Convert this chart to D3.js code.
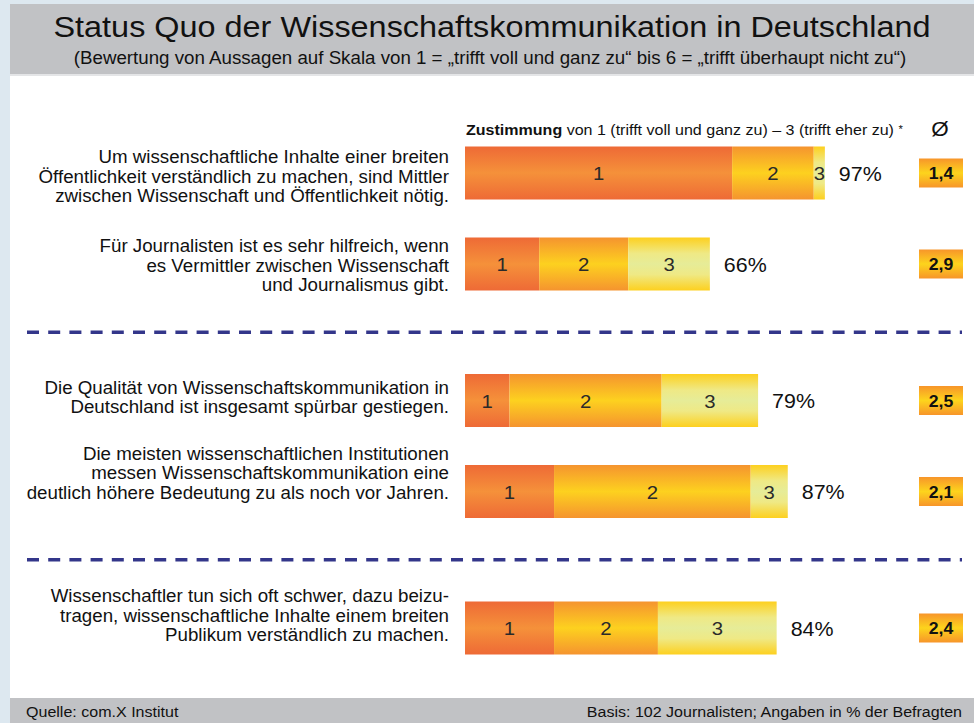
<!DOCTYPE html>
<html>
<head>
<meta charset="utf-8">
<script src="https://cdn.jsdelivr.net/npm/d3@7"></script>
<style>
  body { margin: 0; background: #fff; }
  svg { display: block; font-family: "Liberation Sans", Arial, sans-serif; }
</style>
</head>
<body>
<div id="chart"></div>
<script>
// statements, split into lines as printed
const statements = [
  ["Um wissenschaftliche Inhalte einer breiten", "Öffentlichkeit verständlich zu machen, sind Mittler", "zwischen Wissenschaft und Öffentlichkeit nötig."],
  ["Für Journalisten ist es sehr hilfreich, wenn", "es Vermittler zwischen Wissenschaft", "und Journalismus gibt."],
  ["Die Qualität von Wissenschaftskommunikation in", "Deutschland ist insgesamt spürbar gestiegen."],
  ["Die meisten wissenschaftlichen Institutionen", "messen Wissenschaftskommunikation eine", "deutlich höhere Bedeutung zu als noch vor Jahren."],
  ["Wissenschaftler tun sich oft schwer, dazu beizu-", "tragen, wissenschaftliche Inhalte einem breiten", "Publikum verständlich zu machen."]
];
const groupOf = [0, 0, 1, 1, 2];            // blocks separated by dashed lines
const score1 = [72, 20, 12, 24, 24];        // % "trifft voll und ganz zu"
const score2 = [22, 24, 41, 53, 28];
const score3 = [3, 22, 26, 10, 32];         // % "trifft eher zu"
const totals = [97, 66, 79, 87, 84];
const averages = [1.4, 2.9, 2.5, 2.1, 2.4];
const segNames = ["1", "2", "3"];

const title = "Status Quo der Wissenschaftskommunikation in Deutschland";
const subtitle = "(Bewertung von Aussagen auf Skala von 1 = „trifft voll und ganz zu“ bis 6 = „trifft überhaupt nicht zu“)";
const source = "Quelle: com.X Institut";
const basis = "Basis: 102 Journalisten; Angaben in % der Befragten";

const W = 974, H = 723;
const SX = 1.07; // the printed type is a little wider than it is tall
const deFmt = d3.formatLocale({decimal: ",", thousands: ".", grouping: [3], currency: ["", " €"]}).format(".1f");

// small vertical nudges for the statement blocks (layout only)
const labelShift = [4, 2, -3, -18, -12];

const svg = d3.select("#chart").append("svg")
  .attr("width", W).attr("height", H)
  .attr("viewBox", [0, 0, W, H]);

// place a text at x, y and stretch it horizontally
function place(sel, x, y) {
  return sel.attr("transform", `translate(${x},${y}) scale(${SX},1)`);
}

// gradients
const defs = svg.append("defs");
function grad(id, stops) {
  const g = defs.append("linearGradient").attr("id", id)
    .attr("x1", 0).attr("y1", 0).attr("x2", 0).attr("y2", 1);
  stops.forEach(s => g.append("stop").attr("offset", s[0]).attr("stop-color", s[1]));
}
grad("g1", [[0, "#ee6a36"], [0.5, "#f5913a"], [1, "#ee6a36"]]);
grad("g2", [[0, "#f5942f"], [0.5, "#fdd11f"], [1, "#f5942f"]]);
grad("g3", [[0, "#fdd01f"], [0.3, "#efe985"], [0.5, "#e6ec98"], [0.7, "#efe985"], [1, "#fdd01f"]]);
grad("gAvg", [[0, "#f7952a"], [0.5, "#fdd41c"], [1, "#f7952a"]]);

// frame
svg.append("rect").attr("width", W).attr("height", H).attr("fill", "#dde8f0");
svg.append("rect").attr("x", 10).attr("y", 74).attr("width", W - 10).attr("height", 624).attr("fill", "#fff");
svg.append("rect").attr("x", 10).attr("y", 74).attr("width", W - 10).attr("height", 2).attr("fill", "#e4e5e7");
svg.append("rect").attr("x", 10).attr("y", 4).attr("width", W - 10).attr("height", 70).attr("fill", "#c1c2c5");
svg.append("rect").attr("x", 10).attr("y", 698).attr("width", W - 10).attr("height", 25).attr("fill", "#c1c2c5");

place(svg.append("text"), 492, 37).attr("text-anchor", "middle")
  .attr("font-size", 30.3).attr("fill", "#111").text(title);
place(svg.append("text"), 490, 64).attr("text-anchor", "middle")
  .attr("font-size", 17.5).attr("fill", "#111").text(subtitle);
place(svg.append("text"), 26, 717)
  .attr("font-size", 15).attr("fill", "#111").text(source);
place(svg.append("text"), 962, 717).attr("text-anchor", "end")
  .attr("font-size", 15).attr("fill", "#111").text(basis);

// scales
const x = d3.scaleLinear().domain([0, 100]).range([465, 836]);
const slot = statements.map((d, i) => i + groupOf[i] * 0.5);
const y = d3.scaleLinear().domain([0, 5]).range([173, 628]);
const barH = 53;

const rows = statements.map((lines, i) => {
  const vals = [score1[i], score2[i], score3[i]];
  let acc = 0;
  const segs = vals.map((v, k) => {
    const s = {name: segNames[k], x0: acc, x1: acc + v, k};
    acc += v;
    return s;
  });
  return {i, lines, segs, total: totals[i], avg: averages[i], cy: y(slot[i])};
});

// column header
const head = place(svg.append("text"), 466, 135).attr("font-size", 15).attr("fill", "#111");
head.append("tspan").attr("font-weight", "bold").text("Zustimmung");
head.append("tspan").text(" von 1 (trifft voll und ganz zu) – 3 (trifft eher zu) ");
head.append("tspan").attr("font-size", 10.5).attr("dy", -2).text("*");
place(svg.append("text"), 940, 136).attr("text-anchor", "middle")
  .attr("font-size", 21).attr("fill", "#111").text("Ø");

// dashed separators between groups
const sepSlots = [];
for (let i = 1; i < slot.length; i++) {
  if (groupOf[i] !== groupOf[i - 1]) sepSlots.push((slot[i] + slot[i - 1]) / 2);
}
svg.selectAll(".sep").data(sepSlots).join("line")
  .attr("class", "sep")
  .attr("x1", 27).attr("x2", 962)
  .attr("y1", d => y(d)).attr("y2", d => y(d))
  .attr("stroke", "#33368a").attr("stroke-width", 3.5)
  .attr("stroke-dasharray", "12,9.2");

const row = svg.selectAll(".row").data(rows).join("g").attr("class", "row");

// statement text
row.append("text")
  .attr("transform", `translate(449,0) scale(${SX},1)`)
  .attr("text-anchor", "end").attr("font-size", 17.5).attr("fill", "#111")
  .selectAll("tspan")
  .data(d => d.lines.map((l, j) => ({l, j, n: d.lines.length, cy: d.cy + labelShift[d.i]})))
  .join("tspan")
  .attr("x", 0)
  .attr("y", d => d.cy + 6 + (d.j - (d.n - 1) / 2) * 19.5)
  .text(d => d.l);

// bar segments
const seg = row.selectAll(".seg").data(d => d.segs.map(s => ({...s, cy: d.cy}))).join("g").attr("class", "seg");
seg.append("rect")
  .attr("x", d => x(d.x0)).attr("width", d => x(d.x1) - x(d.x0))
  .attr("y", d => d.cy - barH / 2).attr("height", barH)
  .attr("fill", d => `url(#g${d.k + 1})`);
seg.append("text")
  .attr("transform", d => `translate(${(x(d.x0) + x(d.x1)) / 2},${d.cy + 7}) scale(${SX},1)`)
  .attr("text-anchor", "middle").attr("font-size", 19).attr("fill", "#2a2a2a")
  .text(d => d.name);

// totals
row.append("text")
  .attr("transform", d => `translate(${x(d.total) + 14},${d.cy + 7.5}) scale(${SX},1)`)
  .attr("font-size", 20).attr("fill", "#111")
  .text(d => d.total + "%");

// averages
row.append("rect")
  .attr("x", 919).attr("width", 44)
  .attr("y", d => d.cy - 14.5).attr("height", 29)
  .attr("fill", "url(#gAvg)");
row.append("text")
  .attr("transform", d => `translate(941,${d.cy + 6}) scale(${SX},1)`)
  .attr("text-anchor", "middle").attr("font-size", 16.5).attr("font-weight", "bold").attr("fill", "#111")
  .text(d => deFmt(d.avg));
</script>
</body>
</html>
